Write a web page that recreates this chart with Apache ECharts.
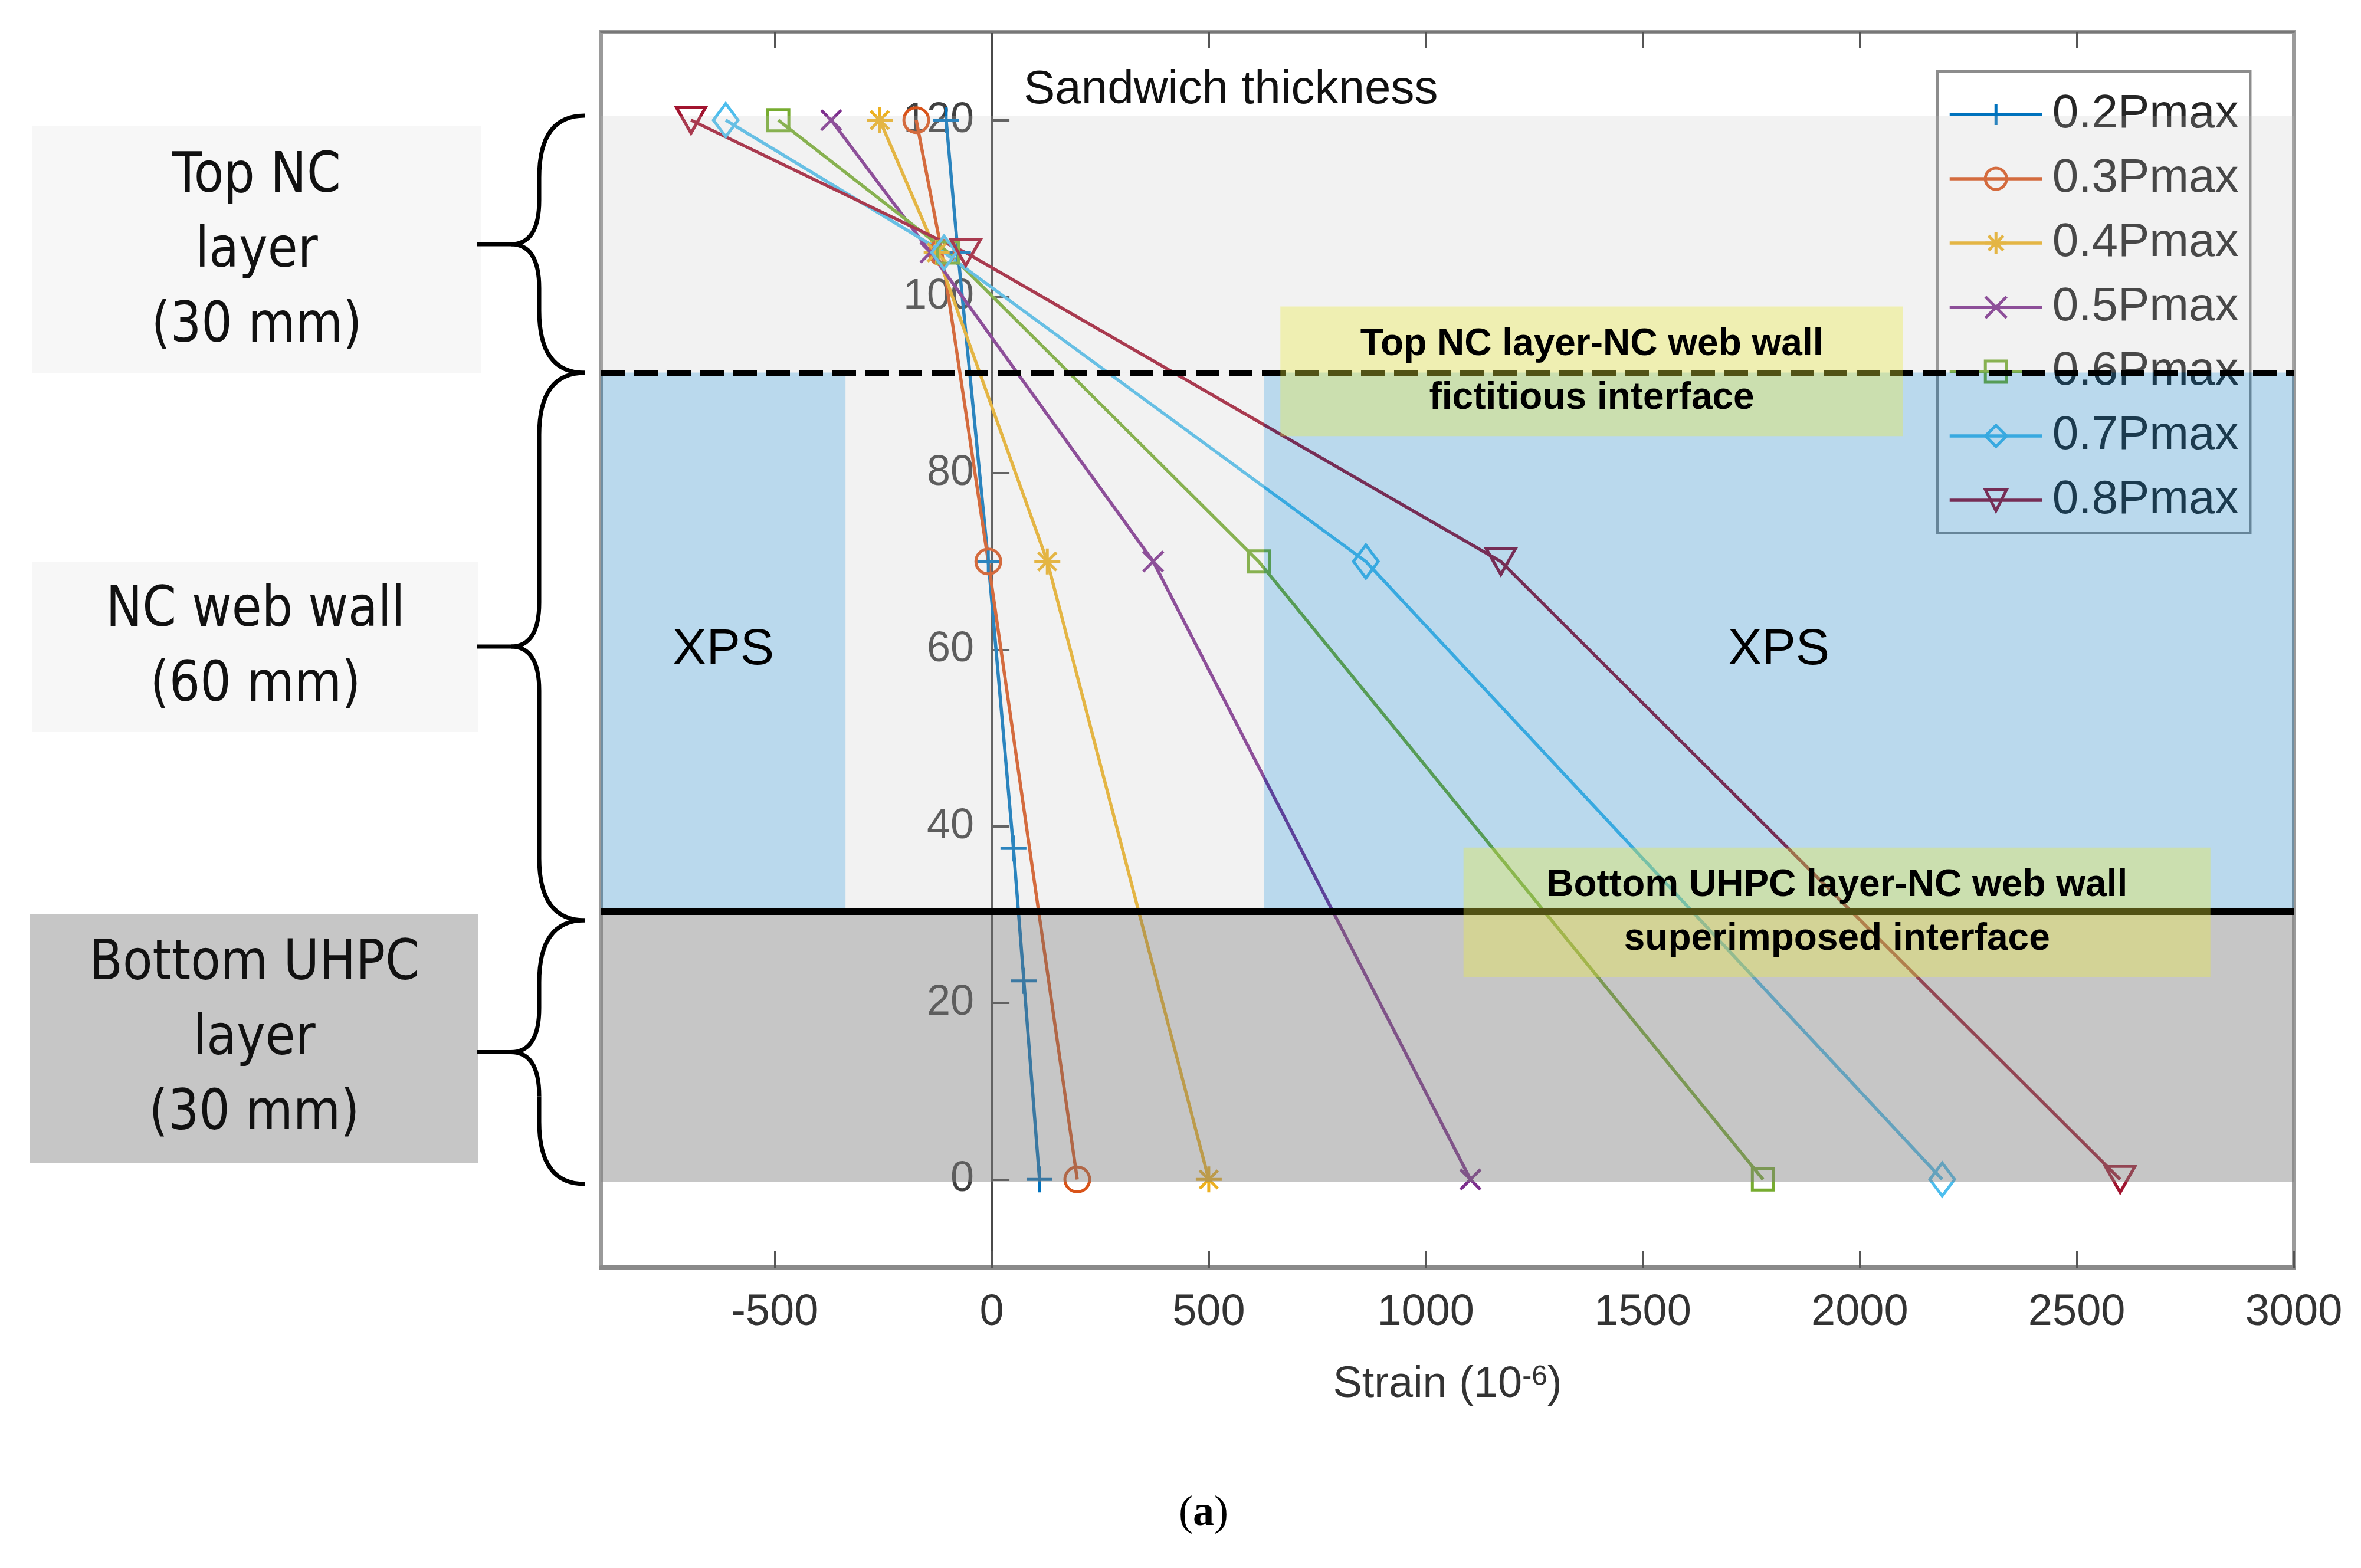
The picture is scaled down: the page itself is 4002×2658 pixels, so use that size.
<!DOCTYPE html>
<html><head><meta charset="utf-8">
<script src="https://cdn.jsdelivr.net/npm/echarts@6/dist/echarts.min.js"></script>
<style>html,body{margin:0;padding:0;background:#fff}#chart{width:4002px;height:2658px}</style>
</head><body><div id="chart"></div>
<script>
// ---------------- data ----------------
const seriesNames = ['0.2Pmax', '0.3Pmax', '0.4Pmax', '0.5Pmax', '0.6Pmax', '0.7Pmax', '0.8Pmax'];
const heights02 = [0, 22.5, 37.5, 70, 105, 120];          // gauge heights (mm) for 0.2Pmax
const heightsMain = [0, 70, 105, 120];                     // gauge heights (mm) for other loads
const strain02 = [110, 74, 50, -8, -78, -105];
const strain03 = [197, -8, -115, -174];
const strain04 = [500, 128, -127, -258];
const strain05 = [1103, 372, -141, -370];
const strain06 = [1777, 615, -100, -492];
const strain07 = [2190, 862, -110, -613];
const strain08 = [2600, 1173, -60, -693];
const xTickValues = [-500, 0, 500, 1000, 1500, 2000, 2500, 3000];
const xTopTickValues = [-500, 500, 1000, 1500, 2000, 2500];
const yTickValues = [0, 20, 40, 60, 80, 100, 120];
const xRange = [-900, 3000];
const yRange = [-10, 130];

// layer geometry (data units)
const sandwichTop = 120.5, interfaceTop = 91.4, interfaceBottom = 30.4, sandwichBottom = -0.3;
const webLeft = -337, webRight = 627;
const box1 = {x: [665, 2100], y: [84.2, 98.9], text: 'Top NC layer-NC web wall\nfictitious interface'};
const box2 = {x: [1087, 2808], y: [22.9, 37.6], text: 'Bottom UHPC layer-NC web wall\nsuperimposed interface'};

// ---------------- styles ----------------
const colors = ['#0072BD', '#D95319', '#EDB120', '#7E2F8E', '#77AC30', '#4DBEEE', '#A2142F'];
const symbols = [
  'path://M0,-1L0,1M-1,0L1,0',
  'circle',
  'path://M0,-1L0,1M-1,0L1,0M-0.7,-0.7L0.7,0.7M-0.7,0.7L0.7,-0.7',
  'path://M-1,-1L1,1M-1,1L1,-1',
  'path://M-1,-1L1,-1L1,1L-1,1Z',
  'path://M0,-1L1,0L0,1L-1,0Z',
  'path://M-1,-1L1,-1L0,1Z'
];
const symbolSizes = [44, 42, 44, 34, 36, [42, 56], [50, 44]];
const GRID_LEFT = 1019;

const strains = [strain02, strain03, strain04, strain05, strain06, strain07, strain08];
const heightSets = [heights02, heightsMain, heightsMain, heightsMain, heightsMain, heightsMain, heightsMain];

const lineSeries = seriesNames.map((name, i) => ({
  name, type: 'line', z: 2,
  data: strains[i].map((v, k) => [v, heightSets[i][k]]),
  symbol: symbols[i], symbolSize: symbolSizes[i], showSymbol: true,
  lineStyle: {color: colors[i], width: 5.5},
  itemStyle: {color: 'rgba(0,0,0,0)', borderColor: colors[i], borderWidth: 5},
  emphasis: {disabled: true}
}));

const lightFill = 'rgba(195,195,195,0.22)';
const blueFill = 'rgba(0,114,189,0.27)';
const grayFill = 'rgba(128,128,128,0.45)';
const yellowFill = 'rgba(235,235,60,0.35)';
const xpsLabel = {show: true, position: 'inside', fontSize: 86, fontFamily: 'Liberation Sans', color: '#000', offset: [0, 14]};

const regionSeries = {
  name: 'regions', type: 'line', data: [], z: 6, silent: true,
  markArea: {
    silent: true, z: 6, label: {show: false},
    data: [
      [{xAxis: xRange[0], yAxis: interfaceTop, itemStyle: {color: lightFill}}, {xAxis: xRange[1], yAxis: sandwichTop}],
      [{xAxis: webLeft, yAxis: interfaceBottom, itemStyle: {color: lightFill}}, {xAxis: webRight, yAxis: interfaceTop}],
      [{name: 'XPS', xAxis: xRange[0], yAxis: interfaceBottom, itemStyle: {color: blueFill}, label: xpsLabel}, {xAxis: webLeft, yAxis: interfaceTop}],
      [{name: 'XPS', xAxis: webRight, yAxis: interfaceBottom, itemStyle: {color: blueFill}, label: xpsLabel}, {xAxis: xRange[1], yAxis: interfaceTop}],
      [{xAxis: xRange[0], yAxis: sandwichBottom, itemStyle: {color: grayFill}}, {xAxis: xRange[1], yAxis: interfaceBottom}]
    ]
  }
};

const interfaceSeries = {
  name: 'interfaces', type: 'line', data: [], z: 7, silent: true,
  markLine: {
    silent: true, z: 7, symbol: ['none', 'none'], label: {show: false},
    data: [
      {yAxis: interfaceTop, lineStyle: {type: [40, 16], width: 10, color: '#000'}},
      {yAxis: interfaceBottom, lineStyle: {type: 'solid', width: 12, color: '#000'}}
    ]
  }
};

const boxLabel = {show: true, position: 'inside', fontSize: 64, fontWeight: 'bold', fontFamily: 'Liberation Sans', lineHeight: 91, color: '#000', align: 'center'};
const boxSeries = {
  name: 'notes', type: 'line', data: [], z: 8, silent: true,
  markArea: {
    silent: true, z: 8, label: {show: false},
    data: [box1, box2].map(b => [
      {name: b.text, xAxis: b.x[0], yAxis: b.y[1], itemStyle: {color: yellowFill}, label: boxLabel},
      {xAxis: b.x[1], yAxis: b.y[0]}
    ])
  }
};

const braceStyle = {stroke: '#000', lineWidth: 7, fill: null};
function brace(y0, y1) {
  const xe = 991, xv = 914, xt = 866, xs = 808;
  const ym = (y0 + y1) / 2;
  const rE = Math.min(105, (y1 - y0) / 4), rM = Math.min(75, (y1 - y0) / 4);
  const bz = (x1, y1_, cx, cy, x2, y2) => ({type: 'bezierCurve', shape: {x1, y1: y1_, cpx1: cx, cpy1: cy, x2, y2}, style: braceStyle});
  const ln = (x1, y1_, x2, y2) => ({type: 'line', shape: {x1, y1: y1_, x2, y2}, style: braceStyle});
  return [
    bz(xe, y0, xv, y0, xv, y0 + rE),
    ln(xv, y0 + rE, xv, ym - rM),
    bz(xv, ym - rM, xv, ym, xt, ym),
    bz(xt, ym, xv, ym, xv, ym + rM),
    ln(xv, ym + rM, xv, y1 - rE),
    bz(xv, y1 - rE, xv, y1, xe, y1),
    ln(xs, ym, xt, ym)
  ];
}
const panelText = (x, y, text) => ({
  type: 'text', x, y, scaleX: 0.87, z: 10,
  style: {text, fontSize: 95, fontFamily: 'DejaVu Sans', fill: '#111', align: 'center', verticalAlign: 'middle', lineHeight: 127}
});
const plainNum = v => String(v);

const chart = echarts.init(document.getElementById('chart'), null, {renderer: 'canvas'});
chart.setOption({
  animation: false,
  backgroundColor: '#fff',
  grid: {left: GRID_LEFT, right: 114, top: 54, bottom: 509, show: true, borderColor: '#9a9a9a', borderWidth: 6, backgroundColor: 'transparent'},
  xAxis: [{
    type: 'value', position: 'bottom', min: xRange[0], max: xRange[1],
    axisLine: {onZero: false, lineStyle: {color: '#8a8a8a', width: 8}},
    axisTick: {show: true, inside: true, length: 28, customValues: xTickValues, lineStyle: {color: '#555', width: 3}},
    axisLabel: {customValues: xTickValues, formatter: plainNum, fontSize: 74, color: '#333', margin: 40, fontFamily: 'Liberation Sans'},
    splitLine: {show: false},
    name: 'Strain (10{sup|-6})', nameLocation: 'middle', nameGap: 162,
    nameTextStyle: {fontSize: 74, color: '#333', fontFamily: 'Liberation Sans',
      rich: {sup: {fontSize: 48, color: '#333', fontFamily: 'Liberation Sans', verticalAlign: 'top'}}}
  }, {
    type: 'value', position: 'top', min: xRange[0], max: xRange[1],
    axisLine: {onZero: false, lineStyle: {color: '#777', width: 4}},
    axisTick: {show: true, inside: true, length: 28, customValues: xTopTickValues, lineStyle: {color: '#555', width: 3}},
    axisLabel: {show: false}, splitLine: {show: false}
  }],
  yAxis: {
    type: 'value', min: yRange[0], max: yRange[1], position: 'left', offset: 0,
    axisLine: {show: true, onZero: false, lineStyle: {color: '#4a4a4a', width: 4}},
    axisTick: {show: true, inside: true, length: 30, customValues: yTickValues, lineStyle: {color: '#4a4a4a', width: 4}},
    axisLabel: {customValues: yTickValues, formatter: plainNum, fontSize: 72, color: '#404040', margin: 30, fontFamily: 'Liberation Sans'},
    splitLine: {show: false}
  },
  legend: {
    data: seriesNames, orient: 'vertical', left: 3284, top: 121, z: 4,
    padding: [28, 20, 10, 18], itemWidth: 157, itemHeight: 45, itemGap: 19,
    backgroundColor: '#fff', borderColor: '#8c8c8c', borderWidth: 4, selectedMode: false,
    lineStyle: {width: 5.5}, itemStyle: {borderWidth: 5},
    textStyle: {fontSize: 80, fontFamily: 'Liberation Sans', color: '#262626', lineHeight: 90, padding: [0, 0, 0, 12]}
  },
  series: [...lineSeries, regionSeries, interfaceSeries, boxSeries],
  graphic: [
    {type: 'rect', shape: {x: 55, y: 213, width: 760, height: 419}, style: {fill: '#f7f7f7'}},
    {type: 'rect', shape: {x: 55, y: 952, width: 755, height: 289}, style: {fill: '#f7f7f7'}},
    {type: 'rect', shape: {x: 51, y: 1550, width: 759, height: 421}, style: {fill: '#c6c6c6'}},
    panelText(435, 427, 'Top NC\nlayer\n(30 mm)'),
    panelText(433, 1100, 'NC web wall\n(60 mm)'),
    panelText(431, 1762, 'Bottom UHPC\nlayer\n(30 mm)'),
    ...brace(196, 632),
    ...brace(632, 1560),
    ...brace(1560, 2007),
    {type: 'text', x: 1735, y: 153, z: 10, style: {text: 'Sandwich thickness', fontSize: 80, fontFamily: 'Liberation Sans', fill: '#111', verticalAlign: 'middle'}},
    {type: 'text', x: 2040, y: 2566, z: 10, style: {text: '({b|a})', fontSize: 72, fontFamily: 'Liberation Serif', fill: '#000', align: 'center', verticalAlign: 'middle',
      rich: {b: {fontSize: 72, fontFamily: 'Liberation Serif', fontWeight: 'bold', fill: '#000'}}}}
  ]
});
// place the y axis on strain = 0 (MATLAB "origin" axis location), using the x scale
const zeroPx = chart.convertToPixel({xAxisIndex: 0}, 0);
chart.setOption({yAxis: {offset: GRID_LEFT - zeroPx}});
</script>
</body></html>
